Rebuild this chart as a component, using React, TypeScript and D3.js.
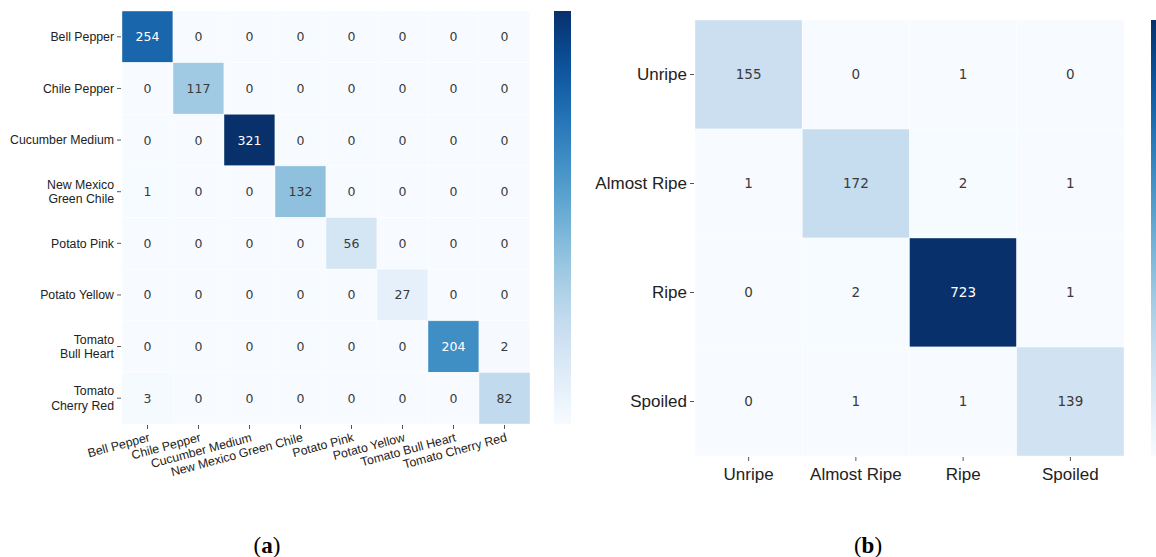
import React from "react";
import * as d3 from "d3";

const classesA = [
  "Bell Pepper",
  "Chile Pepper",
  "Cucumber Medium",
  "New Mexico Green Chile",
  "Potato Pink",
  "Potato Yellow",
  "Tomato Bull Heart",
  "Tomato Cherry Red",
];
const rowLabelsA = [
  ["Bell Pepper"],
  ["Chile Pepper"],
  ["Cucumber Medium"],
  ["New Mexico", "Green Chile"],
  ["Potato Pink"],
  ["Potato Yellow"],
  ["Tomato", "Bull Heart"],
  ["Tomato", "Cherry Red"],
];
const matrixA = [
  [254, 0, 0, 0, 0, 0, 0, 0],
  [0, 117, 0, 0, 0, 0, 0, 0],
  [0, 0, 321, 0, 0, 0, 0, 0],
  [1, 0, 0, 132, 0, 0, 0, 0],
  [0, 0, 0, 0, 56, 0, 0, 0],
  [0, 0, 0, 0, 0, 27, 0, 0],
  [0, 0, 0, 0, 0, 0, 204, 2],
  [3, 0, 0, 0, 0, 0, 0, 82],
];

const classesB = ["Unripe", "Almost Ripe", "Ripe", "Spoiled"];
const matrixB = [
  [155, 0, 1, 0],
  [1, 172, 2, 1],
  [0, 2, 723, 1],
  [0, 1, 1, 139],
];

const LABEL_FONT = "'Liberation Sans', Arial, Helvetica, sans-serif";
const NUM_FONT = "'DejaVu Sans', sans-serif";

type HMProps = {
  id: string;
  x0: number;
  y0: number;
  x1: number;
  y1: number;
  classes: string[];
  rowLabels: string[][];
  matrix: number[][];
  labelSize: number;
  numSize: number;
  rotateX: boolean;
  cb: { x: number; w: number };
};

function Heatmap(p: HMProps) {
  const n = p.classes.length;
  const idx = d3.range(n).map(String);
  const xs = d3.scaleBand().domain(idx).range([p.x0, p.x1]);
  const ys = d3.scaleBand().domain(idx).range([p.y0, p.y1]);
  const vmax = d3.max(p.matrix.flat()) as number;
  const color = d3.scaleSequential(d3.interpolateBlues).domain([0, vmax]);
  const stops = d3.range(0, 1.0001, 0.05);
  const lineH = p.labelSize * 1.15;
  return (
    <g>
      <defs>
        <linearGradient id={p.id} x1="0" y1="1" x2="0" y2="0">
          {stops.map((t) => (
            <stop key={t} offset={t} stopColor={d3.interpolateBlues(t)} />
          ))}
        </linearGradient>
      </defs>
      {p.matrix.map((row, i) =>
        row.map((v, j) => {
          const t = v / vmax;
          return (
            <g key={i + "-" + j}>
              <rect
                x={xs(String(j))}
                y={ys(String(i))}
                width={xs.bandwidth()}
                height={ys.bandwidth()}
                fill={color(v)}
                stroke="#ffffff"
                strokeOpacity={0.6}
                strokeWidth={0.7}
              />
              <text
                x={(xs(String(j)) as number) + xs.bandwidth() / 2}
                y={(ys(String(i)) as number) + ys.bandwidth() / 2}
                dy="0.36em"
                textAnchor="middle"
                fontFamily={NUM_FONT}
                fontSize={p.numSize}
                fill={t > 0.6 ? "#ffffff" : "#3a3a3a"}
              >
                {v}
              </text>
            </g>
          );
        })
      )}
      {p.rowLabels.map((lines, i) => {
        const cy = (ys(String(i)) as number) + ys.bandwidth() / 2;
        const start = cy - ((lines.length - 1) * lineH) / 2;
        return (
          <g key={"yl" + i}>
            <line x1={p.x0 - 5} x2={p.x0 - 1} y1={cy} y2={cy} stroke="#555" strokeWidth={1} />
            <text textAnchor="end" fontFamily={LABEL_FONT} fontSize={p.labelSize} fill="#222">
              {lines.map((l, k) => (
                <tspan key={k} x={p.x0 - 8} y={start + k * lineH} dy="0.35em">
                  {l}
                </tspan>
              ))}
            </text>
          </g>
        );
      })}
      {p.classes.map((c, j) => {
        const cx = (xs(String(j)) as number) + xs.bandwidth() / 2;
        return (
          <g key={"xl" + j}>
            <line x1={cx} x2={cx} y1={p.y1 + 1} y2={p.y1 + 5} stroke="#555" strokeWidth={1} />
            {p.rotateX ? (
              <text
                transform={`translate(${cx + 3},${p.y1 + 17}) rotate(-15)`}
                textAnchor="end"
                fontFamily={LABEL_FONT}
                fontSize={p.labelSize}
                fill="#222"
              >
                {c}
              </text>
            ) : (
              <text
                x={cx}
                y={p.y1 + 24}
                textAnchor="middle"
                fontFamily={LABEL_FONT}
                fontSize={p.labelSize}
                fill="#222"
              >
                {c}
              </text>
            )}
          </g>
        );
      })}
      <rect x={p.cb.x} y={p.y0} width={p.cb.w} height={p.y1 - p.y0} fill={`url(#${p.id})`} />
    </g>
  );
}

export default function App() {
  return (
    <svg width={1156} height={557} style={{ position: "absolute", left: 0, top: 0, background: "#fff" }}>
      <rect x={0} y={0} width={1156} height={557} fill="#fff" />
      <Heatmap
        id="cbA"
        x0={122}
        y0={11}
        x1={530}
        y1={424}
        classes={classesA}
        rowLabels={rowLabelsA}
        matrix={matrixA}
        labelSize={12.3}
        numSize={12.5}
        rotateX={true}
        cb={{ x: 554, w: 17 }}
      />
      <Heatmap
        id="cbB"
        x0={695}
        y0={20}
        x1={1124}
        y1={456}
        classes={classesB}
        rowLabels={classesB.map((c) => [c])}
        matrix={matrixB}
        labelSize={17}
        numSize={13.5}
        rotateX={false}
        cb={{ x: 1151, w: 17 }}
      />
      <text x={267} y={553} textAnchor="middle" fontFamily="'Liberation Serif', 'DejaVu Serif', serif" fontSize={23} fill="#000">
        (<tspan fontWeight="bold">a</tspan>)
      </text>
      <text x={868} y={553} textAnchor="middle" fontFamily="'Liberation Serif', 'DejaVu Serif', serif" fontSize={23} fill="#000">
        (<tspan fontWeight="bold">b</tspan>)
      </text>
    </svg>
  );
}
